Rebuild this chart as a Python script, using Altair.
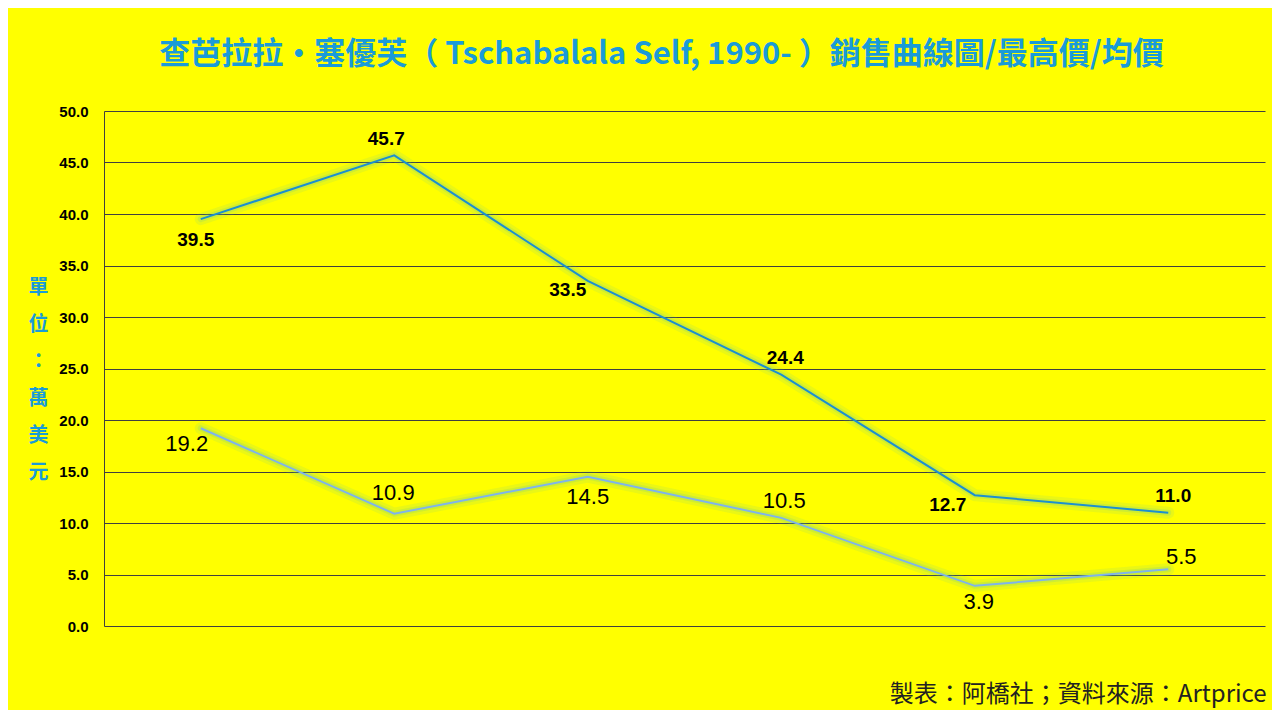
import altair as alt
import pandas as pd

years = ["2019", "2020", "2021", "2022", "2023", "2024"]
max_price = [39.5, 45.7, 33.5, 24.4, 12.7, 11.0]
avg_price = [19.2, 10.9, 14.5, 10.5, 3.9, 5.5]
series_names = ["最高價", "均價"]

df = pd.DataFrame({
    "year": years * 2,
    "series": [series_names[0]] * len(years) + [series_names[1]] * len(years),
    "value": max_price + avg_price,
    "idx": list(range(len(years))) * 2,
})

TITLE = "查芭拉拉・塞優芙（ Tschabalala Self, 1990- ）銷售曲線圖/最高價/均價"
FOOT = "製表：阿橋社；資料來源：Artprice"
CJK = "Noto Sans CJK TC"
BLUE = "#1a9bd8"

x_enc = alt.X("year:O", scale=alt.Scale(type="point", padding=0.5),
              axis=alt.Axis(title=FOOT, labels=False, ticks=False, domain=False, grid=False,
                            titleX=1162, titleY=68, titleAlign="right", titleBaseline="middle",
                            titleFont=CJK, titleFontSize=24, titleFontWeight="normal",
                            titleColor="#222222"))
y_enc = alt.Y("value:Q", scale=alt.Scale(domain=[0, 50], nice=False),
              axis=alt.Axis(values=list(range(0, 51, 5)), format=".1f",
                            title=["單", "位", "：", "萬", "美", "元"],
                            titleAngle=0, titleX=-66, titleY=176, titleAlign="center",
                            titleBaseline="middle", titleLineHeight=37,
                            titleFont=CJK, titleFontSize=20, titleFontWeight="bold",
                            titleColor=BLUE,
                            labelFont="Liberation Sans", labelFontSize=15, labelFontWeight="bold",
                            labelColor="#000000", labelPadding=16, ticks=False,
                            domain=True, domainColor="#404040", grid=True,
                            gridColor="#404040", gridWidth=1))

base = alt.Chart(df).encode(x=x_enc, y=y_enc)

glow = base.mark_line(strokeWidth=12, opacity=0.12, color="#55c0b0", strokeCap="round").encode(
    detail="series:N")
glow2 = base.mark_line(strokeWidth=6, opacity=0.18, color="#55c0b0", strokeCap="round").encode(
    detail="series:N")
lines = base.mark_line(strokeWidth=2).encode(
    color=alt.Color("series:N", scale=alt.Scale(domain=series_names, range=["#1c8fd0", "#7fb4ea"]),
                    legend=None))

# label placement rules: (series index, point index, dx, dy, bold, size)
rules = [
    (0, 0, -5, 21, True, 19),
    (0, 1, -8, -16, True, 19),
    (0, 2, -20, 9, True, 19),
    (0, 3, 4, -17, True, 19),
    (0, 4, -27, 10, True, 19),
    (0, 5, 5, -17, True, 19),
    (1, 0, -14, 16, False, 22),
    (1, 1, -1, -21, False, 22),
    (1, 2, 0, 20, False, 22),
    (1, 3, 3, -17, False, 22),
    (1, 4, 4, 16, False, 22),
    (1, 5, 13, -12, False, 22),
]
texts = []
for si, pi, dx, dy, bold, size in rules:
    texts.append(
        base.transform_filter(
            f"datum.series == '{series_names[si]}' && datum.idx == {pi}"
        ).mark_text(dx=dx, dy=dy, fontSize=size, font="Liberation Sans",
                    fontWeight="bold" if bold else "normal", color="#000000")
        .encode(text=alt.Text("value:Q", format=".1f"))
    )

chart = alt.layer(glow, glow2, lines, *texts).properties(
    width=1161, height=515,
    title=alt.TitleParams(TITLE, font=CJK, fontSize=31, fontWeight="bold", color=BLUE,
                          anchor="middle", dx=-23, offset=33),
    autosize=alt.AutoSizeParams(type="none"),
    padding={"left": 96, "top": 103, "right": 7, "bottom": 84},
).configure(background="#FFFF00").configure_view(stroke=None)

chart.save("out.html", embed_options={"renderer": "svg", "actions": False})
